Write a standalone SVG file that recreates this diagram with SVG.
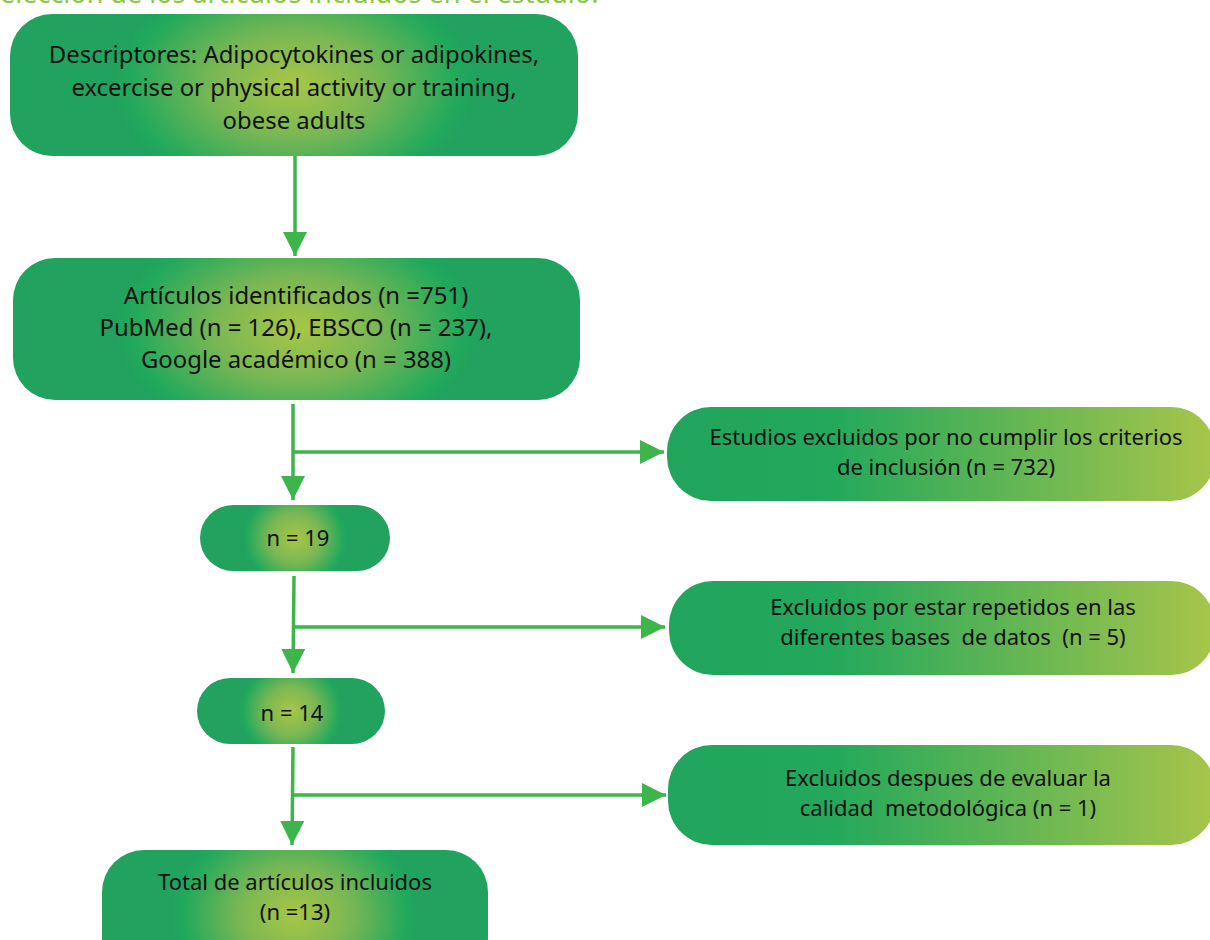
<svg xmlns="http://www.w3.org/2000/svg" width="1210" height="940" viewBox="0 0 1210 940">
<defs>
<radialGradient id="glow" cx="0.5" cy="0.5" r="0.5" gradientTransform="translate(0.5 0.5) scale(0.64 1.6) translate(-0.5 -0.5)">
<stop offset="0" stop-color="#a8c646"/>
<stop offset="0.45" stop-color="#7ab754"/>
<stop offset="0.9" stop-color="#22a95c"/>
<stop offset="1" stop-color="#21a35f"/>
</radialGradient>
<radialGradient id="glowPill" cx="0.5" cy="0.5" r="0.5" gradientTransform="translate(0.5 0.5) scale(0.55 1.5) translate(-0.5 -0.5)">
<stop offset="0" stop-color="#a8c646"/>
<stop offset="0.5" stop-color="#7ab754"/>
<stop offset="0.92" stop-color="#22a95c"/>
<stop offset="1" stop-color="#21a35f"/>
</radialGradient>
<linearGradient id="side" x1="0" y1="0" x2="1" y2="0">
<stop offset="0" stop-color="#21a55d"/>
<stop offset="0.3" stop-color="#23a85c"/>
<stop offset="1" stop-color="#a8c54a"/>
</linearGradient>
<marker id="ah" viewBox="0 0 10 10" refX="10" refY="5" markerWidth="24" markerHeight="24" markerUnits="userSpaceOnUse" orient="auto">
<path d="M0,0 L10,5 L0,10 Z" fill="#3db54a"/>
</marker>
</defs>
<style>
.t{font-family:"Noto Sans","Open Sans","Liberation Sans",sans-serif;font-size:22px;fill:#111;text-anchor:middle}
.big{font-size:23.9px}
.ln{stroke:#3db54a;stroke-width:3.5;fill:none}
.title{font-family:"Noto Sans","Open Sans","Liberation Sans",sans-serif;font-size:27px;fill:#8dc63f}
</style>
<text class="title" x="0" y="3">elección de los artículos incluidos en el estudio.</text>
<g id="connectors">
<line class="ln" x1="295" y1="156" x2="295" y2="256" marker-end="url(#ah)"/>
<line class="ln" x1="293" y1="404" x2="293" y2="500" marker-end="url(#ah)"/>
<line class="ln" x1="293" y1="452" x2="664" y2="452" marker-end="url(#ah)"/>
<line class="ln" x1="294" y1="576" x2="293" y2="673" marker-end="url(#ah)"/>
<line class="ln" x1="294" y1="627" x2="665" y2="627" marker-end="url(#ah)"/>
<line class="ln" x1="293" y1="747" x2="292" y2="845" marker-end="url(#ah)"/>
<line class="ln" x1="293" y1="795" x2="666" y2="795" marker-end="url(#ah)"/>
</g>
<g id="n1">
<rect x="10" y="14" width="568" height="142" rx="42" fill="url(#glow)"/>
<text class="t big" x="294" y="63">Descriptores: Adipocytokines or adipokines,</text>
<text class="t big" x="294" y="96">excercise or physical activity or training,</text>
<text class="t big" x="294" y="129">obese adults</text>
</g>
<g id="n2">
<rect x="13" y="258" width="567" height="142" rx="42" fill="url(#glow)"/>
<text class="t big" x="296" y="304">Artículos identificados (n =751)</text>
<text class="t big" x="296" y="336">PubMed (n = 126), EBSCO (n = 237),</text>
<text class="t big" x="296" y="368">Google académico (n = 388)</text>
</g>
<g id="e1">
<rect x="667" y="407" width="548" height="94" rx="44" fill="url(#side)"/>
<text class="t" x="946" y="445">Estudios excluidos por no cumplir los criterios</text>
<text class="t" x="946" y="475">de inclusión (n = 732)</text>
</g>
<g id="n3">
<rect x="200" y="505" width="190" height="66" rx="33" fill="url(#glowPill)"/>
<text class="t" x="298" y="546">n = 19</text>
</g>
<g id="e2">
<rect x="669" y="581" width="546" height="94" rx="44" fill="url(#side)"/>
<text class="t" x="953" y="615">Excluidos por estar repetidos en las</text>
<text class="t" x="953" y="645" xml:space="preserve">diferentes bases  de datos  (n = 5)</text>
</g>
<g id="n4">
<rect x="197" y="678" width="188" height="66" rx="33" fill="url(#glowPill)"/>
<text class="t" x="292" y="721">n = 14</text>
</g>
<g id="e3">
<rect x="668" y="745" width="547" height="100" rx="44" fill="url(#side)"/>
<text class="t" x="948" y="786">Excluidos despues de evaluar la</text>
<text class="t" x="948" y="816" xml:space="preserve">calidad  metodológica (n = 1)</text>
</g>
<g id="n5">
<rect x="102" y="850" width="386" height="130" rx="42" fill="url(#glow)"/>
<text class="t" x="295" y="890">Total de artículos incluidos</text>
<text class="t" x="295" y="920">(n =13)</text>
</g>
</svg>
